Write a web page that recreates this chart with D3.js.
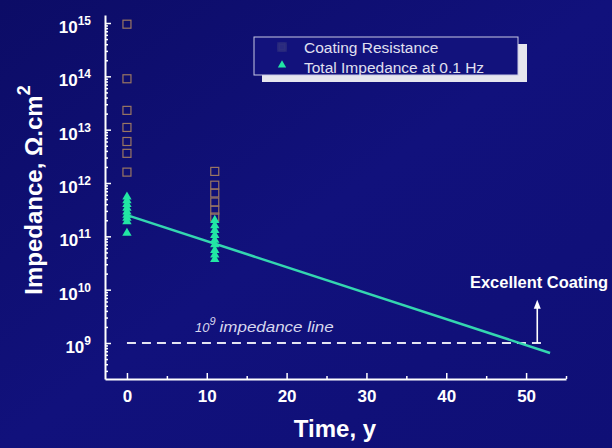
<!DOCTYPE html>
<html>
<head>
<meta charset="utf-8">
<script src="https://cdn.jsdelivr.net/npm/d3@7"></script>
<style>
  html, body { margin: 0; padding: 0; background: #0f0f72; }
  svg { display: block; font-family: "Liberation Sans", Arial, sans-serif; }
</style>
</head>
<body>
<svg id="chart" width="612" height="448"></svg>
<script>
// Coating impedance measurements vs. service time
const resistanceTime = [0, 0, 0, 0, 0, 0, 0, 11, 11, 11, 11, 11, 11];
const resistanceValues = [9.5e14, 9e13, 2.3e13, 1.1e13, 6e12, 3.6e12, 1.6e12,
                          1.65e12, 9.1e11, 6.5e11, 4.4e11, 3.1e11, 2.3e11];

const impedanceTime = [0, 0, 0, 0, 0, 0, 0, 0, 0, 11, 11, 11, 11, 11, 11, 11, 11, 11];
const impedanceValues = [5.5e11, 4.7e11, 4.0e11, 3.4e11, 2.9e11, 2.5e11, 2.2e11, 1.9e11, 1.15e11,
                         2.0e11, 1.6e11, 1.3e11, 1.05e11, 8.5e10, 7e10, 5.5e10, 4.5e10, 3.7e10];

// Extrapolated trend of total impedance
const trendTime = [0, 53];
const trendValues = [2.5e11, 6.5e8];

// Threshold line and "excellent" marker
const thresholdValue = 1e9;
const thresholdTime = [0, 52.2];
const arrowTime = 51.4;
const arrowTop = 6.5e9;

const xTicks = [0, 10, 20, 30, 40, 50];
const xMinorTicks = [5, 15, 25, 35, 45, 55];
const yExponents = [9, 10, 11, 12, 13, 14, 15];

const svg = d3.select("#chart");

// Background
const defs = svg.append("defs");
const grad = defs.append("linearGradient").attr("id", "bg")
  .attr("x1", 0).attr("y1", 0).attr("x2", 1).attr("y2", 1);
grad.append("stop").attr("offset", "0%").attr("stop-color", "#0c0c66");
grad.append("stop").attr("offset", "50%").attr("stop-color", "#11117c");
grad.append("stop").attr("offset", "100%").attr("stop-color", "#0f0f76");
svg.append("rect").attr("width", 612).attr("height", 448).attr("fill", "url(#bg)");
defs.append("filter").attr("id", "soft")
  .append("feGaussianBlur").attr("stdDeviation", 1);

const x = d3.scaleLinear().domain([-2.75, 55]).range([105, 566]);
const y = d3.scaleLog().domain([Math.pow(10, 8.325), Math.pow(10, 15.15)]).range([379, 15]);

// Y axis: major and minor log ticks, pointing inward
const yMajor = yExponents.map(e => Math.pow(10, e));
const yMinor = [];
for (let e = 8; e <= 15; e++) {
  for (let m = 2; m <= 9; m++) {
    const v = m * Math.pow(10, e);
    if (v >= y.domain()[0] && v <= y.domain()[1]) yMinor.push(v);
  }
}

const axisStyle = g => {
  g.selectAll("path").attr("stroke", "#ffffff").attr("stroke-width", 2);
  g.selectAll("line").attr("stroke", "#ffffff").attr("stroke-width", 1.5);
};

svg.append("g").attr("transform", "translate(105,0)")
  .call(d3.axisLeft(y).tickValues(yMinor).tickSize(-3).tickSizeOuter(0).tickFormat(""))
  .call(axisStyle);
svg.append("g").attr("transform", "translate(105,0)")
  .call(d3.axisLeft(y).tickValues(yMajor).tickSize(-6).tickSizeOuter(0).tickFormat(""))
  .call(axisStyle)
  .call(g => g.select("path").remove());

// Y tick labels: 10 with superscript exponent
const yLabels = svg.append("g");
yExponents.forEach(e => {
  const t = yLabels.append("text")
    .attr("x", 91).attr("y", y(Math.pow(10, e)) + 10)
    .attr("text-anchor", "end").attr("fill", "#ffffff")
    .attr("font-weight", "bold").attr("font-size", 17);
  t.append("tspan").text("10");
  t.append("tspan").attr("font-size", 12).attr("dy", -8).text(e);
});

// X axis
svg.append("g").attr("transform", "translate(0,379)")
  .call(d3.axisBottom(x).tickValues(xMinorTicks).tickSize(-3).tickSizeOuter(0).tickFormat(""))
  .call(axisStyle);
svg.append("g").attr("transform", "translate(0,379)")
  .call(d3.axisBottom(x).tickValues(xTicks).tickSize(-6).tickSizeOuter(0).tickFormat(d3.format("d")))
  .call(axisStyle)
  .call(g => g.select("path").remove())
  .call(g => g.selectAll("text")
    .attr("fill", "#ffffff").attr("font-size", 17).attr("font-weight", "bold")
    .attr("font-family", "Liberation Sans, Arial, sans-serif")
    .attr("y", 11).attr("dy", "0.71em"));

// Axis titles
svg.append("text")
  .attr("x", 335).attr("y", 437)
  .attr("text-anchor", "middle").attr("fill", "#ffffff")
  .attr("font-weight", "bold").attr("font-size", 24)
  .text("Time, y");

const yTitle = svg.append("text")
  .attr("transform", "translate(42,190) rotate(-90)")
  .attr("text-anchor", "middle").attr("fill", "#ffffff")
  .attr("font-weight", "bold").attr("font-size", 24);
yTitle.append("tspan").text("Impedance, \u03A9.cm");
yTitle.append("tspan").attr("font-size", 18).attr("dy", -12).text("2");

// Threshold (10^9) dashed line
svg.append("line")
  .attr("x1", x(thresholdTime[0])).attr("x2", x(thresholdTime[1]))
  .attr("y1", y(thresholdValue)).attr("y2", y(thresholdValue))
  .attr("stroke", "#e4e4f2").attr("stroke-width", 2)
  .attr("stroke-dasharray", "9,6");

const thrLabel = svg.append("text")
  .attr("x", 195).attr("y", y(thresholdValue) - 11)
  .attr("fill", "#d8d8ee").attr("font-style", "italic").attr("font-size", 13);
thrLabel.append("tspan").text("10");
thrLabel.append("tspan").attr("font-size", 11).attr("dy", -7).text("9");
thrLabel.append("tspan").attr("dy", 7).attr("dx", 4)
  .attr("font-size", 14.5)
  .attr("textLength", 114).attr("lengthAdjust", "spacingAndGlyphs")
  .text("impedance line");

// Trend line
svg.append("path")
  .datum(trendTime.map((t, i) => [t, trendValues[i]]))
  .attr("d", d3.line().x(d => x(d[0])).y(d => y(d[1])))
  .attr("fill", "none").attr("stroke", "#34d6b0").attr("stroke-width", 2.5);

// Coating resistance: open squares
svg.append("g").selectAll("rect")
  .data(resistanceTime.map((t, i) => [t, resistanceValues[i]]))
  .join("rect")
  .attr("x", d => x(d[0]) - 4).attr("y", d => y(d[1]) - 4)
  .attr("width", 8).attr("height", 8)
  .attr("fill", "none").attr("stroke", "#9a7662").attr("stroke-width", 1.2);

// Total impedance at 0.1 Hz: filled triangles
const tri = d3.symbol().type(d3.symbolTriangle).size(38);
svg.append("g").selectAll("path")
  .data(impedanceTime.map((t, i) => [t, impedanceValues[i]]))
  .join("path")
  .attr("transform", d => `translate(${x(d[0])},${y(d[1])})`)
  .attr("d", tri)
  .attr("fill", "#22e6a4");

// "Excellent Coating" arrow
const ax = x(arrowTime);
svg.append("line")
  .attr("x1", ax).attr("x2", ax)
  .attr("y1", y(thresholdValue)).attr("y2", y(arrowTop) + 6)
  .attr("stroke", "#ffffff").attr("stroke-width", 1.6);
svg.append("path")
  .attr("d", `M${ax},${y(arrowTop)} L${ax - 3.5},${y(arrowTop) + 9} L${ax + 3.5},${y(arrowTop) + 9} Z`)
  .attr("fill", "#ffffff");
svg.append("text")
  .attr("x", 470).attr("y", 288)
  .attr("fill", "#ffffff").attr("font-weight", "bold").attr("font-size", 16)
  .attr("textLength", 138).attr("lengthAdjust", "spacingAndGlyphs")
  .text("Excellent Coating");

// Legend with drop shadow
const legend = svg.append("g");
legend.append("rect")
  .attr("x", 262).attr("y", 44).attr("width", 265).attr("height", 38)
  .attr("fill", "#e6e6ee");
legend.append("rect")
  .attr("x", 254).attr("y", 37).attr("width", 264).attr("height", 38)
  .attr("fill", "#12127c").attr("stroke", "#c8c8e4").attr("stroke-width", 1);
legend.append("rect")
  .attr("x", 278).attr("y", 43).attr("width", 8).attr("height", 8)
  .attr("fill", "#2a2a80").attr("stroke", "#34347e").attr("stroke-width", 1.5)
  .attr("filter", "url(#soft)");
legend.append("path")
  .attr("transform", "translate(282,65)")
  .attr("d", d3.symbol().type(d3.symbolTriangle).size(30))
  .attr("fill", "#22e6a4");
legend.append("text")
  .attr("x", 304).attr("y", 53).attr("fill", "#e0e0f0").attr("font-size", 15.5)
  .text("Coating Resistance");
legend.append("text")
  .attr("x", 304).attr("y", 73).attr("fill", "#e0e0f0").attr("font-size", 15.5)
  .text("Total Impedance at 0.1 Hz");
</script>
</body>
</html>
